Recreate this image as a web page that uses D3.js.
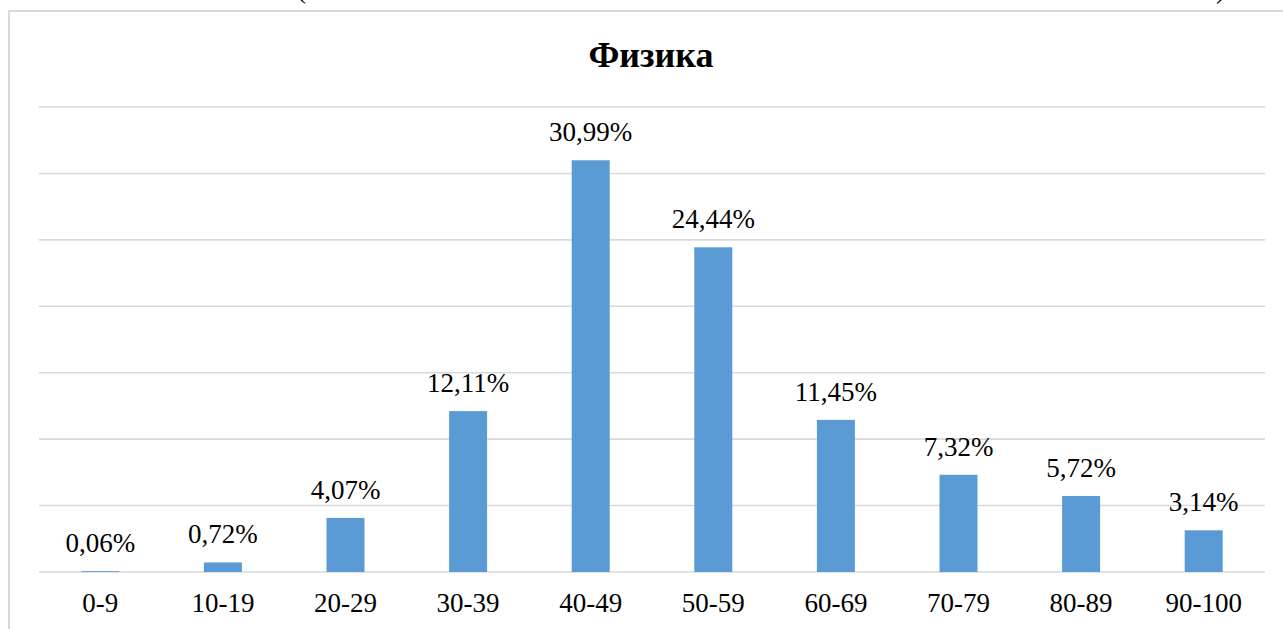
<!DOCTYPE html>
<html>
<head>
<meta charset="utf-8">
<script src="https://cdn.jsdelivr.net/npm/d3@7"></script>
<style>
  html, body { margin: 0; padding: 0; background: #ffffff; }
  svg { display: block; }
</style>
</head>
<body>
<svg id="chart" width="1283" height="629"></svg>
<script>
// Score bands and share of participants (%)
const categories = ["0-9", "10-19", "20-29", "30-39", "40-49", "50-59", "60-69", "70-79", "80-89", "90-100"];
const values = [0.06, 0.72, 4.07, 12.11, 30.99, 24.44, 11.45, 7.32, 5.72, 3.14];
const gridTicks = [0, 5, 10, 15, 20, 25, 30, 35];
const title = "Физика";

const svg = d3.select("#chart");
const W = 1283, H = 629;
const plot = { left: 39, right: 1265, top: 107, bottom: 572 };
const FONT = "Liberation Serif";

function serifText(sel, size, weight) {
  return sel
    .attr("font-family", FONT)
    .attr("font-size", size)
    .attr("font-weight", weight || "normal")
    .style("font-family", `"${FONT}"`)
    .style("font-size", size + "px")
    .style("font-weight", weight || "normal")
    .attr("fill", "#000");
}

// Chart frame (continues past the right and bottom edges)
svg.append("rect")
  .attr("x", 9).attr("y", 11).attr("width", W + 20).attr("height", H + 20)
  .attr("fill", "none").attr("stroke", "#d9d9d9").attr("stroke-width", 2);

const x = d3.scaleBand()
  .domain(categories)
  .range([plot.left, plot.right])
  .paddingInner(0.69)
  .paddingOuter(0.345);

const y = d3.scaleLinear().domain([0, 35]).range([plot.bottom, plot.top]);

// Horizontal gridlines
svg.append("g")
  .selectAll("line")
  .data(gridTicks)
  .join("line")
  .attr("x1", plot.left).attr("x2", plot.right)
  .attr("y1", d => y(d)).attr("y2", d => y(d))
  .attr("stroke", "#d9d9d9").attr("stroke-width", 1.6);

// Bars
svg.append("g")
  .selectAll("rect")
  .data(values)
  .join("rect")
  .attr("x", (d, i) => x(categories[i]))
  .attr("y", d => y(d))
  .attr("width", x.bandwidth())
  .attr("height", d => y(0) - y(d))
  .attr("fill", "#5b9bd5");

// Value labels
const fmt = v => v.toFixed(2).replace(".", ",") + "%";
svg.append("g")
  .selectAll("text")
  .data(values)
  .join("text")
  .attr("x", (d, i) => x(categories[i]) + x.bandwidth() / 2)
  .attr("y", d => y(d) - 19)
  .attr("text-anchor", "middle")
  .call(serifText, 27)
  .text(fmt);

// Category labels under the baseline
svg.append("g")
  .selectAll("text")
  .data(categories)
  .join("text")
  .attr("x", d => x(d) + x.bandwidth() / 2)
  .attr("y", plot.bottom + 40)
  .attr("text-anchor", "middle")
  .call(serifText, 27)
  .text(d => d);

// Title
svg.append("text")
  .attr("x", 651).attr("y", 67)
  .attr("text-anchor", "middle")
  .call(serifText, 36, "bold")
  .text(title);

// Fragment of the caption line above the chart frame
svg.append("text").attr("x", 297).attr("y", -2).call(serifText, 27).text("(");
svg.append("text").attr("x", 1216).attr("y", -2).call(serifText, 27).text(")");
</script>
</body>
</html>
